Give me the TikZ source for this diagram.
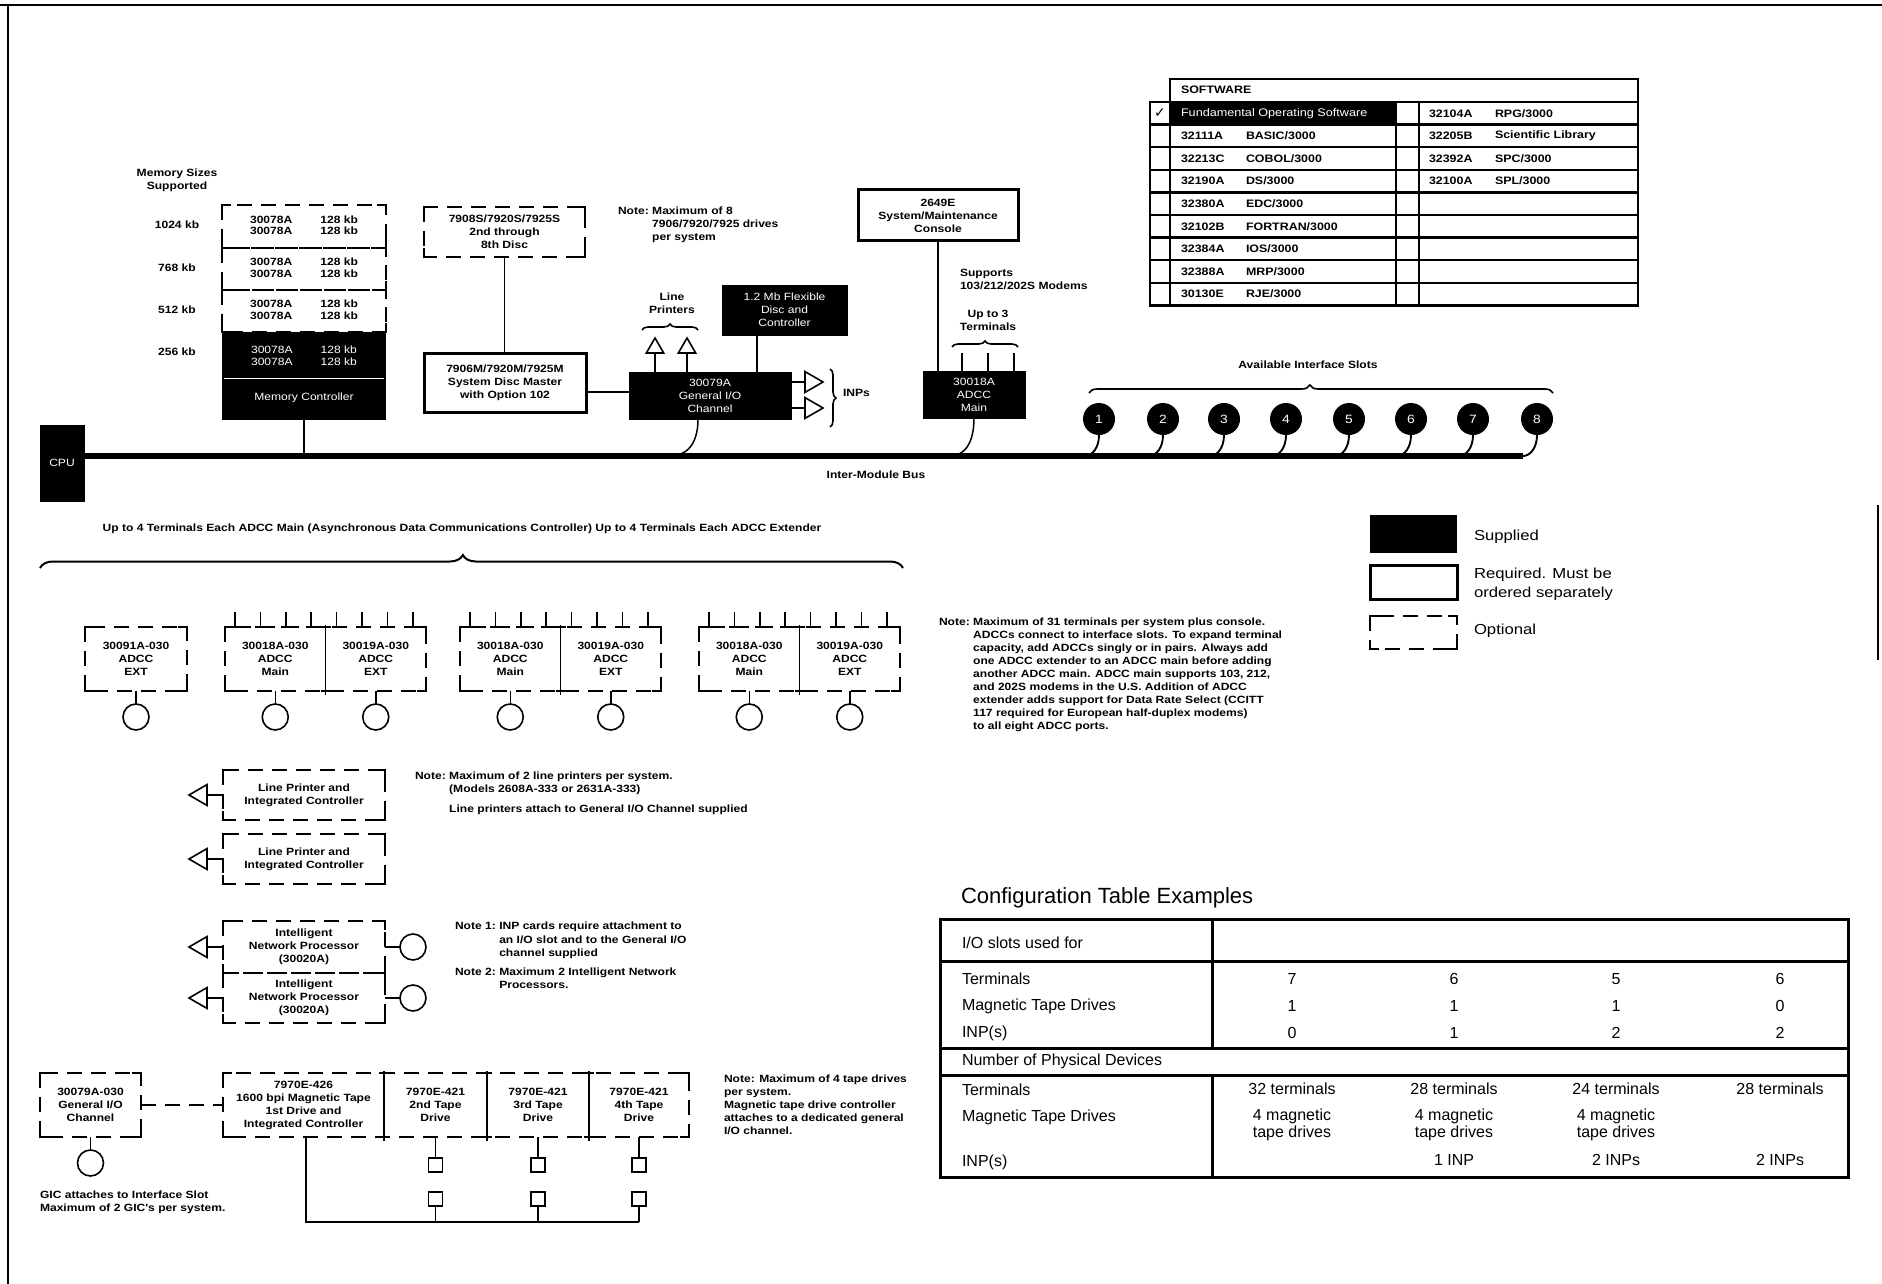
\documentclass[tikz,border=0pt]{standalone}
\usepackage{fontspec}
\setmainfont{Liberation Sans}
\newfontfamily\lblf[FakeStretch=1.15]{Liberation Sans}
\newfontfamily\lblb[FakeStretch=1.15]{Liberation Sans Bold}
\newfontfamily\symf{DejaVu Sans}
\usetikzlibrary{shapes.geometric,decorations.pathreplacing,calc}

\newcommand\optrect[2]{%
  \draw[dline] (#1.north west) rectangle (#2.south east);
  \draw[cnr] ([yshift=-9pt]#1.north west) -- (#1.north west) -- ([xshift=9pt]#1.north west);
  \draw[cnr] ([xshift=-9pt]#2.north east) -- (#2.north east) -- ([yshift=-9pt]#2.north east);
  \draw[cnr] ([yshift=9pt]#1.south west) -- (#1.south west) -- ([xshift=9pt]#1.south west);
  \draw[cnr] ([xshift=-9pt]#2.south east) -- (#2.south east) -- ([yshift=9pt]#2.south east);
}
\newcommand\optframe[1]{\optrect{#1}{#1}}
\newcommand\memtab{\begin{tabular}{@{}c@{\hspace{28pt}}c@{}}30078A&128 kb\\30078A&128 kb\end{tabular}}
\newcommand\divider[1]{%
  \draw[conn] ([yshift=2pt]#1.north east) -- ([yshift=-4pt]#1.south east);
  \draw[conn] ([xshift=-5pt]#1.north east) -- ([xshift=5pt]#1.north east);
  \draw[conn] ([xshift=-5pt]#1.south east) -- ([xshift=5pt]#1.south east);
}
\newcommand\adccpair[3]{%
  \node[opt, minimum width=100.5pt, minimum height=64pt] (#1) at (#3+50.25,659) {30018A-030\\ADCC\\Main};
  \node[opt, minimum width=100.5pt, minimum height=64pt] (#2) at (#3+150.75,659) {30019A-030\\ADCC\\EXT};
  \optrect{#1}{#2}
  \divider{#1}
  \foreach \k in {0,...,7}{
    \draw[conn] ($(#1.north west)+(10+\k*25.4,0)$) -- ++(0,-15);
    \draw[conn] ($(#1.north west)+(5+\k*25.4,0)$) -- ++(10,0);
  }
  \node[port, anchor=north] (#1c) at ([yshift=-13pt]#1.south) {};
  \node[port, anchor=north] (#2c) at ([yshift=-13pt]#2.south) {};
  \draw[conn] (#1.south) -- (#1c.north);
  \draw[conn] (#2.south) -- (#2c.north);
}

\tikzset{
  every node/.style={inner sep=0pt, outer sep=0pt},
  lbl/.style={font=\lblb\fontsize{10.5}{13}\selectfont, align=center},
  lbll/.style={font=\lblb\fontsize{10.5}{13}\selectfont, align=left},
  memt/.style={font=\lblb\fontsize{10.5}{11.5}\selectfont},
  blk/.style={font=\lblf\fontsize{10.5}{13}\selectfont, align=center, fill=black, draw=black, text=white},
  req/.style={lbl, draw=black, line width=3pt},
  opt/.style={lbl},
  conn/.style={line width=1.5pt},
  dline/.style={line width=1.9pt, dash pattern=on 15pt off 9pt},
  cnr/.style={line width=1.9pt, line join=miter},
  port/.style={circle, draw, line width=1.6pt, minimum size=26pt},
  slot/.style={circle, fill=black, text=white, minimum size=32pt, font=\lblf\fontsize{12}{12}\selectfont},
  tri/.style={regular polygon, regular polygon sides=3, draw, line width=1.6pt, minimum size=24pt, fill=white},
  brc/.style={decorate, line width=1.6pt},
  sw/.style={font=\lblb\fontsize{10.8}{13}\selectfont, anchor=west},
  tbl/.style={font=\fontsize{16}{19}\selectfont},
  tl/.style={line width=2.5pt},
  ct/.style={line width=3pt},
  sqr/.style={draw, line width=1.6pt, minimum size=14pt},
  lgt/.style={font=\lblf\fontsize{14.5}{19}\selectfont, align=left, anchor=west},
}

\begin{document}
\begin{tikzpicture}[x=1pt,y=-1pt]
\useasboundingbox (0,0) rectangle (1882,1284);
\draw[line width=1.2pt] (0,5) -- (1882,5);
\draw[line width=1.2pt] (8,5) -- (8,1284);
\draw[line width=1.2pt] (1878,505) -- (1878,660);

% ---------- CPU and bus
\node[blk, minimum width=44pt, minimum height=76pt] (cpu) at (62,463) {CPU};
\coordinate (busend) at (1523,456);
\draw[line width=5.5pt] (cpu.east |- busend) -- (busend);
\node[lbl] (imb) at (876,475) {Inter-Module Bus};

% ---------- memory
\node[lbl] (msz) at (177,180) {Memory Sizes\\Supported};
\node[lbl] (k1) at (177,225) {1024 kb};
\node[lbl] (k2) at (177,268) {768 kb};
\node[lbl] (k3) at (177,310) {512 kb};
\node[lbl] (k4) at (177,352) {256 kb};
\node[memt, minimum width=164pt, minimum height=43pt] (mem1) at (304,226.5) {\memtab};
\node[memt, minimum width=164pt, minimum height=42pt] (mem2) at (304,269) {\memtab};
\node[memt, minimum width=164pt, minimum height=42pt] (mem3) at (304,311) {\memtab};
\optframe{mem1}\optframe{mem2}\optframe{mem3}
\node[fill=black, minimum width=164pt, minimum height=88pt] (mem0) at (304,376) {};
\node[memt, font=\lblf\fontsize{10.5}{11.5}\selectfont, text=white] (mem0t) at (304,357) {\memtab};
\draw[white, line width=1pt] (224,378) -- (384,378);
\node[blk, draw=none, fill=none] (memc) at (304,398) {Memory Controller};
\draw[conn] (mem0.south) -- (mem0.south |- busend);

% ---------- discs
\node[opt, minimum width=161pt, minimum height=50pt] (dopt) at (504.5,232) {7908S/7920S/7925S\\2nd through\\8th Disc};
\optframe{dopt}
\node[req, minimum width=162pt, minimum height=59pt] (dm) at (505,382.5) {7906M/7920M/7925M\\System Disc Master\\with Option 102};
\draw[conn] (dopt.south) -- (dopt.south |- dm.north);
\node[lbll, anchor=north west] (n8) at (618,205) {\begin{tabular}{@{}l@{\ }l@{}}Note:&Maximum of 8\\&7906/7920/7925 drives\\&per system\end{tabular}};

% ---------- general I/O channel
\node[blk, minimum width=162pt, minimum height=47pt] (gic) at (710,395.5) {30079A\\General I/O\\Channel};
\coordinate (dmc) at ([yshift=-9.5pt]dm.east);
\draw[conn] (dmc) -- (dmc -| gic.west);
\node[tri, minimum size=20pt] (lpt1) at (655,348) {};
\node[tri, minimum size=20pt] (lpt2) at (687,348) {};
\draw[conn] (lpt1.side 2) -- (lpt1.side 2 |- gic.north);
\draw[conn] (lpt2.side 2) -- (lpt2.side 2 |- gic.north);
\draw[brc, decoration={brace, amplitude=6pt}] (642,330) -- (698,330);
\node[lbl] (lpl) at (672,303.5) {Line\\Printers};
\node[blk, minimum width=125pt, minimum height=50pt] (flx) at (784.5,310) {1.2 Mb Flexible\\Disc and\\Controller};
\coordinate (flb) at ([xshift=-27.5pt]flx.south);
\draw[conn] (flb) -- (flb |- gic.north);
\node[tri, shape border rotate=-90, anchor=side 2] (inpt1) at (805,382) {};
\node[tri, shape border rotate=-90, anchor=side 2] (inpt2) at (805,408) {};
\draw[conn] (inpt1.side 2) -- (inpt1.side 2 -| gic.east);
\draw[conn] (inpt2.side 2) -- (inpt2.side 2 -| gic.east);
\draw[brc, decoration={brace, amplitude=6pt}] (830,369) -- (830,427);
\node[lbl, anchor=west] (inps) at (843,393) {INPs};
\coordinate (gicb) at ([xshift=-12pt]gic.south);
\coordinate (gicbus) at (670,456);
\draw[conn] (gicb) .. controls +(0,26) and +(16,0) .. (gicbus);

% ---------- console and ADCC main
\node[req, minimum width=160pt, minimum height=51pt] (con) at (938,215.5) {2649E\\System/Maintenance\\Console};
\node[blk, minimum width=102pt, minimum height=47pt] (am) at (974,394.5) {30018A\\ADCC\\Main};
\draw[conn] (con.south) -- (con.south |- am.north);
\draw[conn] ([xshift=-12pt]am.north) -- ++(0,-18);
\draw[conn] ([xshift=14pt]am.north) -- ++(0,-18);
\draw[conn] ([xshift=40pt]am.north) -- ++(0,-18);
\draw[brc, decoration={brace, amplitude=6pt}] (952,347) -- (1018,347);
\node[lbl] (ut3) at (988,320) {Up to 3\\Terminals};
\node[lbll, anchor=west] (sup) at (960,279) {Supports\\103/212/202S Modems};
\coordinate (ambus) at (950,456);
\draw[conn] (am.south) .. controls +(0,26) and +(14,0) .. (ambus);

% ---------- interface slots
\foreach \i/\x in {1/1099,2/1163,3/1224,4/1286,5/1349,6/1411,7/1473,8/1537}{
  \node[slot] (s\i) at (\x,419) {\i};
  \coordinate (sb\i) at (\x-14,456);
  \draw[line width=1.9pt] (s\i.south) .. controls +(0,13) and +(7,0) .. (sb\i);
}
\draw[brc, decoration={brace, amplitude=8pt, aspect=0.476}] (1089,393) -- (1553,393);
\node[lbl] (avl) at (1308,365) {Available Interface Slots};

% ---------- software table
\draw[tl] (1170,79) rectangle (1638,102);
\fill (1170,102) rectangle (1396,124.6);
\draw[tl] (1150,102) rectangle (1638,305.4);
\foreach \xx in {1170,1396,1419} \draw[tl] (\xx,102) -- (\xx,305.4);
\foreach \k in {1,...,8} \draw[tl] (1150,102+\k*22.6) -- (1638,102+\k*22.6);
\node[sw] (swh) at (1181,90) {SOFTWARE};
\node[font=\symf\fontsize{14}{14}\selectfont] (chk) at (1160,113.3) {✓};
\node[sw, text=white, font=\lblf\fontsize{11}{13}\selectfont] (fos) at (1181,113.3) {Fundamental Operating Software};
\foreach \k/\c/\n in {1/32111A/BASIC\slash 3000, 2/32213C/COBOL\slash 3000, 3/32190A/DS\slash 3000, 4/32380A/EDC\slash 3000, 5/32102B/FORTRAN\slash 3000, 6/32384A/IOS\slash 3000, 7/32388A/MRP\slash 3000, 8/30130E/RJE\slash 3000}{
  \node[sw] (swc\k) at (1181,113.3+\k*22.6) {\c};
  \node[sw] (swn\k) at (1246,113.3+\k*22.6) {\n};
}
\foreach \k/\c/\n in {0/32104A/RPG\slash 3000, 1/32205B/Scientific Library, 2/32392A/SPC\slash 3000, 3/32100A/SPL\slash 3000}{
  \node[sw] (swrc\k) at (1429,113.3+\k*22.6) {\c};
  \node[sw] (swrn\k) at (1495,113.3+\k*22.6) {\n};
}

% ---------- ADCC row
\node[lbl] (adccl) at (462,529) {Up to 4 Terminals Each ADCC Main (Asynchronous Data Communications Controller) Up to 4 Terminals Each ADCC Extender};
\draw[brc, line width=2pt, decoration={brace, amplitude=13pt, aspect=0.49}] (40,568) -- (903,568);
\node[opt, minimum width=102pt, minimum height=64pt] (ax) at (136,659) {30091A-030\\ADCC\\EXT};
\optframe{ax}
\node[port, anchor=north] (axc) at ([yshift=-13pt]ax.south) {};
\draw[conn] (ax.south) -- (axc.north);
\adccpair{ma}{ea}{225}
\adccpair{mb}{eb}{460}
\adccpair{mc}{ec}{699}

\node[lbll, anchor=north west] (n31) at (939,616) {\begin{tabular}{@{}l@{\ }l@{}}Note:&Maximum of 31 terminals per system plus console.\\
&ADCCs connect to interface slots. To expand terminal\\
&capacity, add ADCCs singly or in pairs. Always add\\
&one ADCC extender to an ADCC main before adding\\
&another ADCC main. ADCC main supports 103, 212,\\
&and 202S modems in the U.S. Addition of ADCC\\
&extender adds support for Data Rate Select (CCITT\\
&117 required for European half-duplex modems)\\
&to all eight ADCC ports.\end{tabular}};

% ---------- legend
\node[fill=black, minimum width=87pt, minimum height=38pt] (lg1) at (1413.5,534) {};
\node[draw, line width=3pt, minimum width=87pt, minimum height=34pt] (lg2) at (1413.5,582) {};
\node[minimum width=87pt, minimum height=33pt] (lg3) at (1413.5,632.5) {};
\optframe{lg3}
\node[lgt] (lgt1) at (1474,537) {Supplied};
\node[lgt] (lgt2) at (1474,584) {Required. Must be\\ordered separately};
\node[lgt] (lgt3) at (1474,631) {Optional};

% ---------- line printers
\node[opt, minimum width=162pt, minimum height=50pt] (lp1) at (304,795) {Line Printer and\\Integrated Controller};
\optframe{lp1}
\node[opt, minimum width=162pt, minimum height=50pt] (lp2) at (304,859) {Line Printer and\\Integrated Controller};
\optframe{lp2}
\node[tri, shape border rotate=90, anchor=side 2] (lpa) at (207,795) {};
\node[tri, shape border rotate=90, anchor=side 2] (lpb) at (207,859) {};
\draw[conn] (lpa.side 2) -- (lp1.west);
\draw[conn] (lpb.side 2) -- (lp2.west);
\node[lbll, anchor=north west] (nlp) at (415,770) {\begin{tabular}{@{}l@{\ }l@{}}Note:&Maximum of 2 line printers per system.\\&(Models 2608A-333 or 2631A-333)\\[7pt]&Line printers attach to General I/O Channel supplied\end{tabular}};

% ---------- INPs
\node[opt, minimum width=162pt, minimum height=52pt] (inp1) at (304,947) {Intelligent\\Network Processor\\(30020A)};
\optframe{inp1}
\node[opt, minimum width=162pt, minimum height=50pt] (inp2) at (304,998) {Intelligent\\Network Processor\\(30020A)};
\optframe{inp2}
\node[tri, shape border rotate=90, anchor=side 2] (ipa) at (207,947) {};
\node[tri, shape border rotate=90, anchor=side 2] (ipb) at (207,998) {};
\draw[conn] (ipa.side 2) -- (inp1.west);
\draw[conn] (ipb.side 2) -- (inp2.west);
\node[port, anchor=west] (ipc1) at ([xshift=15pt]inp1.east) {};
\node[port, anchor=west] (ipc2) at ([xshift=15pt]inp2.east) {};
\draw[conn] (inp1.east) -- (ipc1.west);
\draw[conn] (inp2.east) -- (ipc2.west);
\node[lbll, anchor=north west, font=\lblb\fontsize{10.5}{13.6}\selectfont] (ninp) at (455,920) {\begin{tabular}{@{}l@{\ }l@{}}Note 1:&INP cards require attachment to\\&an I/O slot and to the General I/O\\&channel supplied\\[5pt]Note 2:&Maximum 2 Intelligent Network\\&Processors.\end{tabular}};

% ---------- tape
\node[opt, minimum width=101pt, minimum height=64pt] (gic2) at (90.5,1105) {30079A-030\\General I/O\\Channel};
\optframe{gic2}
\node[port, anchor=north] (gic2c) at ([yshift=-13pt]gic2.south) {};
\draw[conn] (gic2.south) -- (gic2c.north);
\node[lbll, anchor=north west] (gicn) at (40,1191) {GIC attaches to Interface Slot\\Maximum of 2 GIC's per system.};
\node[opt, minimum width=161pt, minimum height=64pt] (t1) at (303.5,1105) {7970E-426\\1600 bpi Magnetic Tape\\1st Drive and\\Integrated Controller};
\node[opt, minimum width=103pt, minimum height=64pt] (t2) at (435.5,1105) {7970E-421\\2nd Tape\\Drive};
\node[opt, minimum width=102pt, minimum height=64pt] (t3) at (538,1105) {7970E-421\\3rd Tape\\Drive};
\node[opt, minimum width=100pt, minimum height=64pt] (t4) at (639,1105) {7970E-421\\4th Tape\\Drive};
\optrect{t1}{t4}
\divider{t1}\divider{t2}\divider{t3}
\draw[dline] (gic2.east) -- (t1.west);
\coordinate (tb) at ([xshift=2.5pt]t1.south);
\coordinate (bl) at (306,1222);
\foreach \t in {t2,t3,t4}{
  \node[sqr] (\t a) at ($(\t.south)+(0,28)$) {};
  \node[sqr] (\t b) at ($(\t.south)+(0,62)$) {};
  \draw[conn] (\t.south) -- (\t a.north);
  \draw[conn] (\t b.south) -- (\t b.south |- bl);
}
\draw[conn] (tb) -- (bl) -- (bl -| t4b.south);
\node[lbll, anchor=north west] (tn) at (724,1075) {Note: Maximum of 4 tape drives\\per system.\\Magnetic tape drive controller\\attaches to a dedicated general\\I/O channel.};

% ---------- configuration table
\node[font=\fontsize{22}{22}\selectfont, anchor=west] (cte) at (961,898) {Configuration Table Examples};
\draw[ct] (940,919) rectangle (1848,1177);
\draw[ct] (940,961) -- (1848,961);
\draw[ct] (940,1048) -- (1848,1048);
\draw[ct] (940,1075) -- (1848,1075);
\draw[ct] (1212,919) -- (1212,1048);
\draw[ct] (1212,1075) -- (1212,1177);
\node[tbl, anchor=west] (r0) at (962,943) {I/O slots used for};
\node[tbl, anchor=west] (r1) at (962,979) {Terminals};
\node[tbl, anchor=west] (r2) at (962,1006) {Magnetic Tape Drives};
\node[tbl, anchor=west] (r3) at (962,1033) {INP(s)};
\node[tbl, anchor=west] (r4) at (962,1061) {Number of Physical Devices};
\node[tbl, anchor=west] (r5) at (962,1090) {Terminals};
\node[tbl, anchor=west] (r6) at (962,1117) {Magnetic Tape Drives};
\node[tbl, anchor=west] (r7) at (962,1162) {INP(s)};
\foreach \c/\x/\a/\b/\d/\p in {1/1292/7/1/0/32, 2/1454/6/1/1/28, 3/1616/5/1/2/24, 4/1780/6/0/2/28}{
  \node[tbl] (va\c) at (\x,979) {\a};
  \node[tbl] (vb\c) at (\x,1006) {\b};
  \node[tbl] (vc\c) at (\x,1033) {\d};
  \node[tbl] (pa\c) at (\x,1089) {\p\ terminals};
}
\foreach \c/\x in {1/1292, 2/1454, 3/1616}{
  \node[tbl, align=center, font=\fontsize{16}{17}\selectfont] (pb\c) at (\x,1124.5) {4 magnetic\\tape drives};
}
\node[tbl] (pc2) at (1454,1160) {1 INP};
\node[tbl] (pc3) at (1616,1160) {2 INPs};
\node[tbl] (pc4) at (1780,1160) {2 INPs};
\end{tikzpicture}
\end{document}
